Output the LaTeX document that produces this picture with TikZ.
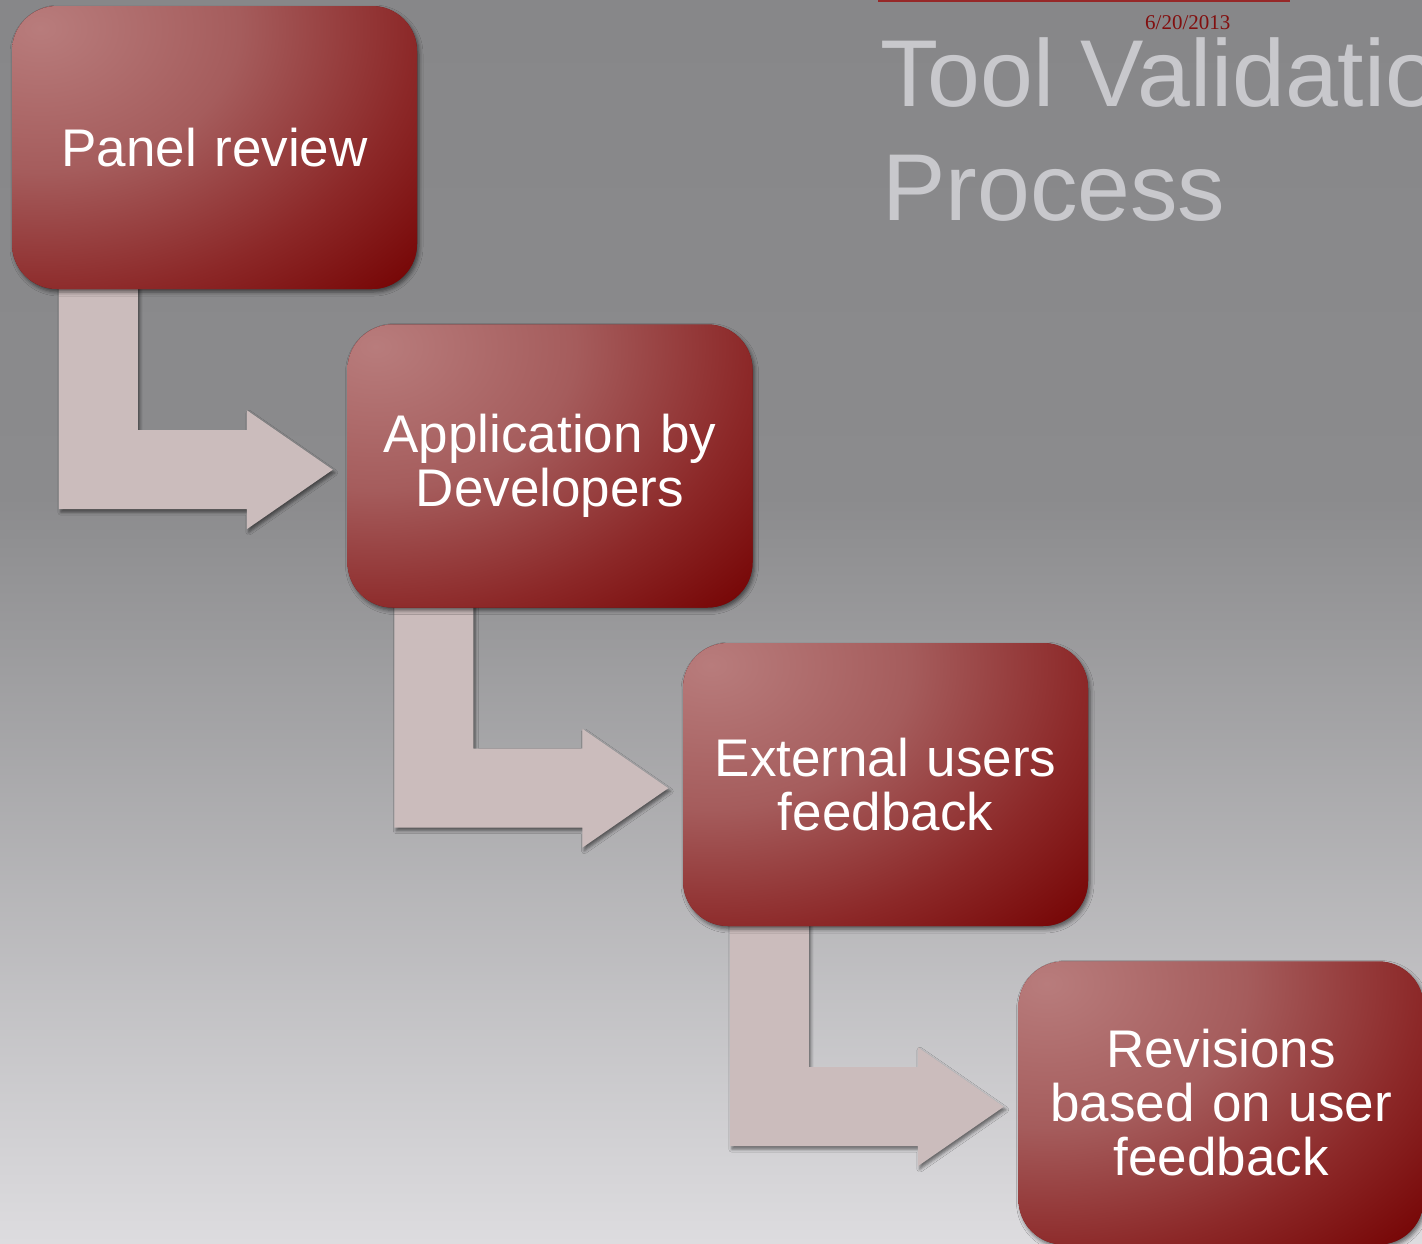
\documentclass[tikz,border=0pt]{standalone}
\usepackage{fontspec}
\setmainfont{Liberation Sans}
\newfontfamily\datefont{Liberation Serif}
\usetikzlibrary{shadows.blur}
\definecolor{bgtop}{RGB}{135,135,137}
\definecolor{bgmid}{RGB}{139,139,141}
\definecolor{bgbot}{RGB}{221,220,223}
\definecolor{bxA}{RGB}{184,124,124}
\definecolor{bxB}{RGB}{165,92,92}
\definecolor{bxC}{RGB}{140,40,40}
\definecolor{bxD}{RGB}{120,8,8}
\definecolor{arrowc}{RGB}{203,188,188}
\definecolor{titlec}{RGB}{200,200,204}
\definecolor{datec}{RGB}{130,15,15}
\definecolor{linec}{RGB}{150,40,40}
\pgfdeclareverticalshading{bgshade}{100bp}{color(0bp)=(bgbot); color(25bp)=(bgbot); color(55bp)=(bgmid); color(75bp)=(bgtop); color(100bp)=(bgtop)}
\pgfdeclareradialshading{boxshade}{\pgfpoint{0bp}{0bp}}{color(0bp)=(bxA); color(5bp)=(bxB); color(9.375bp)=(bxC); color(12.5bp)=(bxD); color(50bp)=(bxD)}
\tikzset{
  stepbox/.style={rectangle, rounded corners=45pt, minimum width=405pt, minimum height=283pt,
    inner sep=0pt, text width=395pt, align=center, text=white, fill=bxD,
    font=\fontsize{53}{54}\selectfont,
    blur shadow={shadow xshift=2pt, shadow yshift=-3pt, shadow blur radius=4pt, shadow opacity=55},
    path picture={\shade[shading=boxshade] ([shift={(28pt,-22pt)}]path picture bounding box.north west) ellipse [x radius=1000pt, y radius=720pt];}},
  blockarrow/.style={fill=arrowc,
    blur shadow={shadow xshift=2pt, shadow yshift=-3pt, shadow blur radius=3pt, shadow opacity=50}},
  titletext/.style={text=titlec, font=\fontsize{95}{114}\selectfont, inner sep=0pt, anchor=base west},
  datetext/.style={text=datec, font=\datefont\fontsize{21}{24}\selectfont, inner sep=0pt, anchor=base west}
}
\newcommand\flowarrow[1]{%
  \fill[blockarrow] ([xshift=47pt,yshift=5pt]#1.south west) -- ++(79,0) -- ++(0,146) -- ++(109,0)
    -- ++(0,-20) -- ++(86,59.5) -- ++(-86,59.5) -- ++(0,-20) -- ++(-188,0) -- cycle;}
\begin{document}
\begin{tikzpicture}[x=1pt,y=-1pt]
\useasboundingbox (0,0) rectangle (1422,1243);
\clip (0,0) rectangle (1422,1243);
\shade[shading=bgshade] (0,0) rectangle (1422,1243);
\fill[linec] (878,0) rectangle (1290,1.5);
\node[titletext] (t1) at (880,106) {Tool Validation};
\node[titletext] (t2) at (882,220) {Process};
\node[datetext] (date) at (1145,29) {6/20/2013};
% boxes (positions)
\path (214.5,147.5) coordinate (p1) (550,466) coordinate (p2)
      (885.5,784.5) coordinate (p3) (1221,1103) coordinate (p4);
\node[stepbox, opacity=0] (b1) at (p1) {};
\node[stepbox, opacity=0] (b2) at (p2) {};
\node[stepbox, opacity=0] (b3) at (p3) {};
\flowarrow{b1}
\flowarrow{b2}
\flowarrow{b3}
\node[stepbox] (n1) at (b1) {Panel review};
\node[stepbox] (n2) at (b2) {Application by\\Developers};
\node[stepbox] (n3) at (b3) {External users\\feedback};
\node[stepbox] (n4) at (p4) {Revisions\\based on user\\feedback};
\end{tikzpicture}
\end{document}
